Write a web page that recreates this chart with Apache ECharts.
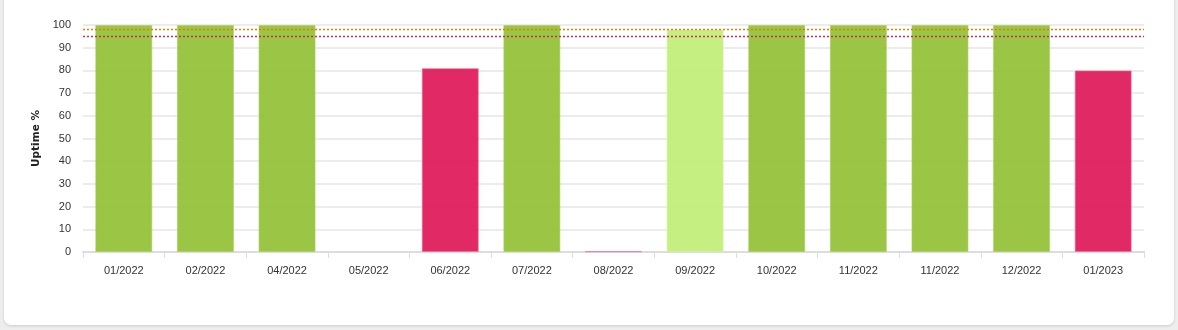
<!DOCTYPE html>
<html>
<head>
<meta charset="utf-8">
<script src="https://cdn.jsdelivr.net/npm/echarts@6/dist/echarts.min.js"></script>
<style>
html,body{margin:0;padding:0;width:1178px;height:330px;background:#eeeeee;overflow:hidden;font-family:Arial,"Liberation Sans",sans-serif;}
#card{position:absolute;left:4px;top:-10px;width:1170px;height:335px;background:#fff;border-radius:7px;box-shadow:0 1px 3px rgba(0,0,0,0.15);}
#chart{position:absolute;left:0;top:0;width:1178px;height:330px;}
</style>
</head>
<body>
<div id="card"></div>
<div id="chart"></div>
<script>
const categories = ['01/2022','02/2022','04/2022','05/2022','06/2022','07/2022','08/2022','09/2022','10/2022','11/2022','11/2022','12/2022','01/2023'];
const uptime = [100, 100, 100, null, 81, 100, 0.3, 98, 100, 100, 100, 100, 80];
const statusLevel = ['good','good','good','none','bad','good','bad','warn','good','good','good','good','bad'];
const yTicks = [0,10,20,30,40,50,60,70,80,90,100];
const thresholdWarn = 98;
const thresholdBad = 95;

const palette = {
  good: {color:'rgba(150,194,58,0.95)', border:'rgba(170,205,90,0.6)'},
  warn: {color:'rgba(195,238,122,0.95)', border:'rgba(210,240,160,0.6)'},
  bad:  {color:'rgba(222,30,93,0.95)', border:'rgba(235,110,150,0.6)'},
  none: {color:'rgba(0,0,0,0)', border:'rgba(0,0,0,0)'}
};

const chart = echarts.init(document.getElementById('chart'));
chart.setOption({
  animation:false,
  grid:{left:83,right:34,top:25,bottom:78,containLabel:false},
  xAxis:{
    type:'category',
    data:categories,
    axisLine:{lineStyle:{color:'#dddddd',width:2}},
    axisTick:{show:true,alignWithLabel:false,length:6,lineStyle:{color:'#dddddd'}},
    axisLabel:{color:'#333',fontSize:11,margin:13,fontFamily:'Arial, Liberation Sans'}
  },
  yAxis:{
    type:'value',
    min:yTicks[0],max:yTicks[yTicks.length-1],interval:10,
    name:'Uptime %',
    nameLocation:'middle',
    nameGap:40,
    nameRotate:90,
    nameTextStyle:{fontWeight:'bold',fontSize:10.5,color:'#222',fontFamily:'DejaVu Sans, Arial'},
    axisLine:{show:false},
    axisTick:{show:false},
    axisLabel:{color:'#333',fontSize:11,margin:12,fontFamily:'Arial, Liberation Sans'},
    splitLine:{lineStyle:{color:'#e6e6e6',width:1.5}}
  },
  series:[{
    type:'bar',
    barWidth:57,
    data:uptime.map((v,i)=>({value:v,itemStyle:{color:palette[statusLevel[i]].color,borderColor:palette[statusLevel[i]].border,borderWidth:1}})),
    markLine:{
      silent:true,
      symbol:'none',
      label:{show:false},
      data:[
        {yAxis:thresholdWarn,lineStyle:{color:'#e08000',type:[2,2],width:1.3,opacity:1}},
        {yAxis:thresholdBad,lineStyle:{color:'#cc2a5a',type:[2,2],width:1.3,opacity:1}}
      ]
    }
  }]
});
</script>
</body>
</html>
